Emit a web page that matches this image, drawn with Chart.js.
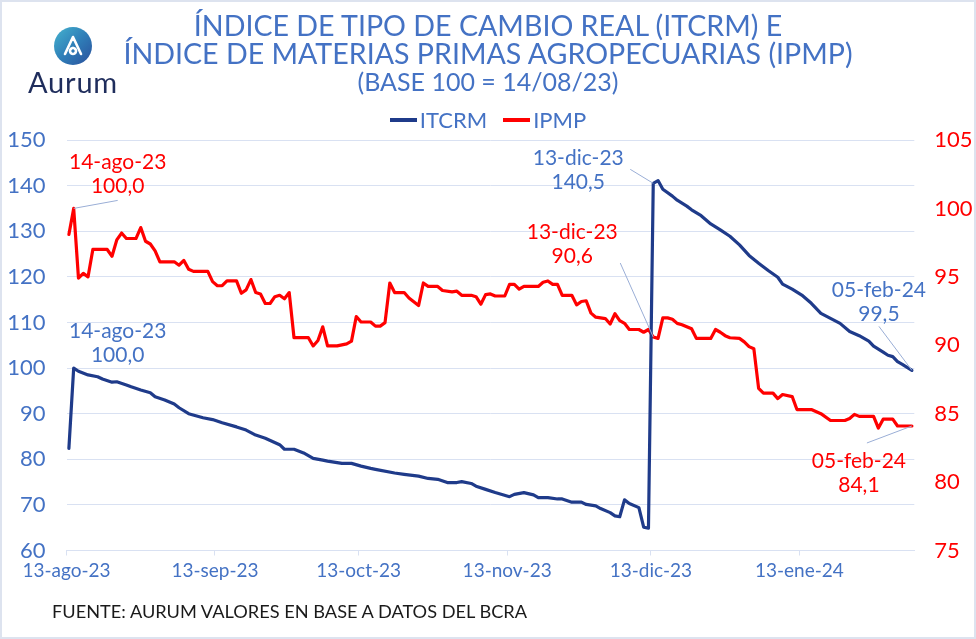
<!DOCTYPE html>
<html>
<head>
<meta charset="utf-8">
<script src="https://cdn.jsdelivr.net/npm/chart.js@4/dist/chart.umd.min.js"></script>
<style>
  html, body { margin: 0; padding: 0; background: #fff; }
  #wrap { position: relative; width: 976px; height: 639px; overflow: hidden; font-family: Lato, "Noto Sans", sans-serif; background: #fff; }
  #c { position: absolute; left: 0; top: 0; }
  #frame { position: absolute; left: 0; top: 0; width: 976px; height: 639px; box-sizing: border-box; border: 2px solid #dde3ef; pointer-events: none; }
  .tl { position: absolute; left: 0; width: 976px; text-align: center; color: #4472C4; white-space: nowrap; }
  #t1 { top: 8px; font-size: 28.6px; line-height: 34px; }
  #t2 { top: 36px; font-size: 28.6px; line-height: 34px; }
  #t3 { top: 65px; font-size: 25px; line-height: 32px; }
  #legend { position: absolute; left: 0; top: 106px; width: 976px; display: flex; justify-content: center; align-items: center; gap: 16px; font-size: 22px; color: #4472C4; }
  #legend .item { display: flex; align-items: center; }
  #legend .sw { display: inline-block; width: 27px; height: 4px; margin-right: 3px; }
  #footer { position: absolute; left: 52px; top: 600px; font-size: 18.2px; color: #1a1a1a; white-space: nowrap; }
  #logo { position: absolute; left: 54px; top: 27px; width: 38px; height: 38px; border-radius: 50%; background: linear-gradient(135deg, #45b3cf 0%, #2f7fb8 50%, #2a4f9c 100%); }
  #brand { position: absolute; left: 28px; top: 64px; font-size: 29px; color: #1f2d5c; letter-spacing: 0.8px; }
</style>
</head>
<body>
<div id="wrap">
  <canvas id="c" width="976" height="639"></canvas>
  <div class="tl" id="t1">ÍNDICE DE TIPO DE CAMBIO REAL (ITCRM) E</div>
  <div class="tl" id="t2">ÍNDICE DE MATERIAS PRIMAS AGROPECUARIAS (IPMP)</div>
  <div class="tl" id="t3">(BASE 100 = 14/08/23)</div>
  <div id="legend"></div>
  <div id="logo"><svg width="38" height="38" viewBox="0 0 38 38"><path d="M11 27 L19 10 L27 27 M19 21 a3 3 0 1 0 0.01 0" fill="none" stroke="#fff" stroke-width="2.6" stroke-linecap="round" stroke-linejoin="round"/></svg></div>
  <div id="brand">Aurum</div>
  <div id="footer">FUENTE: AURUM VALORES EN BASE A DATOS DEL BCRA</div>
  <div id="frame"></div>
</div>
<script>
// ---------------- DATA ----------------
const seriesNames = ['ITCRM', 'IPMP'];

const itcrmDates = [
  '2023-08-13','2023-08-14','2023-08-15','2023-08-17','2023-08-19','2023-08-20','2023-08-22','2023-08-23','2023-08-25','2023-08-26',
  '2023-08-28','2023-08-30','2023-08-31','2023-09-02','2023-09-04','2023-09-05','2023-09-07','2023-09-10','2023-09-12','2023-09-14',
  '2023-09-17','2023-09-19','2023-09-21','2023-09-23','2023-09-26','2023-09-27','2023-09-29','2023-10-01','2023-10-03','2023-10-05',
  '2023-10-06','2023-10-09','2023-10-11','2023-10-13','2023-10-15','2023-10-16','2023-10-20','2023-10-22','2023-10-25','2023-10-27',
  '2023-10-29','2023-10-31','2023-11-02','2023-11-03','2023-11-05','2023-11-06','2023-11-08','2023-11-10','2023-11-13','2023-11-14',
  '2023-11-16','2023-11-18','2023-11-19','2023-11-21','2023-11-23','2023-11-24','2023-11-26','2023-11-28','2023-11-29','2023-12-01',
  '2023-12-02','2023-12-04','2023-12-05','2023-12-06','2023-12-07','2023-12-08','2023-12-10','2023-12-11','2023-12-12','2023-12-13',
  '2023-12-14','2023-12-15','2023-12-17','2023-12-18','2023-12-20','2023-12-21','2023-12-23','2023-12-25','2023-12-27','2023-12-29',
  '2023-12-31','2024-01-02','2024-01-04','2024-01-06','2024-01-08','2024-01-09','2024-01-11','2024-01-13','2024-01-15','2024-01-17',
  '2024-01-19','2024-01-21','2024-01-23','2024-01-25','2024-01-27','2024-01-28','2024-01-30','2024-01-31','2024-02-01','2024-02-02',
  '2024-02-03','2024-02-05'
];
const itcrmValues = [
  82.4,100.0,99.3,98.5,98.1,97.6,96.9,97.0,96.3,95.9,
  95.2,94.6,93.7,93.0,92.1,91.3,90.0,89.1,88.7,88.0,
  87.1,86.4,85.3,84.6,83.2,82.2,82.2,81.4,80.2,79.8,
  79.6,79.1,79.1,78.5,78.0,77.8,77.0,76.7,76.3,75.8,
  75.6,74.9,74.9,75.1,74.7,74.1,73.4,72.7,71.8,72.3,
  72.7,72.2,71.6,71.6,71.3,71.3,70.6,70.6,70.1,69.8,
  69.2,68.3,67.6,67.4,71.1,70.3,69.4,65.1,64.9,140.5,
  141.1,139.2,137.7,136.8,135.5,134.7,133.4,131.6,130.3,128.9,
  127.0,124.7,123.0,121.4,119.9,118.4,117.3,116.0,114.2,112.0,
  110.9,109.8,108.0,107.1,105.9,104.8,103.5,102.8,102.5,101.4,
  100.8,99.5
];

const ipmpDates = [
  '2023-08-13','2023-08-14','2023-08-15','2023-08-16','2023-08-17','2023-08-18','2023-08-21','2023-08-22','2023-08-23','2023-08-24',
  '2023-08-25','2023-08-27','2023-08-28','2023-08-29','2023-08-30','2023-08-31','2023-09-01','2023-09-04','2023-09-05','2023-09-06',
  '2023-09-07','2023-09-08','2023-09-11','2023-09-12','2023-09-13','2023-09-14','2023-09-15','2023-09-17','2023-09-18','2023-09-19',
  '2023-09-20','2023-09-21','2023-09-22','2023-09-23','2023-09-24','2023-09-25','2023-09-26','2023-09-27','2023-09-28','2023-09-29',
  '2023-10-02','2023-10-03','2023-10-04','2023-10-05','2023-10-06','2023-10-08','2023-10-10','2023-10-11','2023-10-12','2023-10-13',
  '2023-10-15','2023-10-16','2023-10-17','2023-10-18','2023-10-19','2023-10-20','2023-10-22','2023-10-23','2023-10-25','2023-10-26',
  '2023-10-27','2023-10-29','2023-10-30','2023-11-01','2023-11-02','2023-11-03','2023-11-05','2023-11-06','2023-11-07','2023-11-08',
  '2023-11-09','2023-11-10','2023-11-12','2023-11-13','2023-11-14','2023-11-15','2023-11-16','2023-11-19','2023-11-20','2023-11-21',
  '2023-11-22','2023-11-23','2023-11-24','2023-11-26','2023-11-27','2023-11-28','2023-11-29','2023-11-30','2023-12-01','2023-12-03',
  '2023-12-04','2023-12-05','2023-12-06','2023-12-07','2023-12-08','2023-12-10','2023-12-11','2023-12-12','2023-12-13','2023-12-14',
  '2023-12-15','2023-12-16','2023-12-17','2023-12-18','2023-12-19','2023-12-20','2023-12-21','2023-12-22','2023-12-25','2023-12-26',
  '2023-12-27','2023-12-28','2023-12-29','2023-12-31','2024-01-01','2024-01-02','2024-01-03','2024-01-04','2024-01-05','2024-01-07',
  '2024-01-08','2024-01-09','2024-01-11','2024-01-12','2024-01-15','2024-01-17','2024-01-19','2024-01-22','2024-01-23','2024-01-24',
  '2024-01-25','2024-01-28','2024-01-29','2024-01-30','2024-02-01','2024-02-02','2024-02-05'
];
const ipmpValues = [
  98.1,100.0,94.9,95.25,95.0,97.0,97.0,96.5,97.7,98.2,
  97.8,97.8,98.6,97.6,97.4,96.9,96.1,96.1,95.85,96.2,
  95.55,95.4,95.4,94.65,94.35,94.35,94.7,94.7,93.8,94.05,
  94.8,93.85,93.75,93.05,93.05,93.55,93.65,93.4,93.85,90.55,
  90.55,89.95,90.35,91.35,89.95,89.95,90.1,90.3,92.1,91.7,
  91.7,91.4,91.4,91.65,94.55,93.85,93.85,93.45,92.9,94.55,
  94.3,94.3,94.0,93.9,93.95,93.65,93.65,93.55,93.0,93.7,
  93.75,93.6,93.6,94.45,94.45,94.1,94.3,94.3,94.6,94.7,
  94.45,94.45,93.65,93.65,92.95,93.2,93.25,92.35,92.05,91.95,
  91.55,92.3,91.8,91.6,91.15,91.15,90.95,91.15,90.6,90.5,
  92.0,92.0,91.9,91.6,91.5,91.35,91.2,90.5,90.5,91.15,
  90.95,90.7,90.55,90.5,90.25,89.9,89.75,86.85,86.5,86.5,
  86.1,86.4,86.25,85.3,85.3,85.0,84.5,84.5,84.65,84.95,
  84.8,84.8,83.95,84.6,84.6,84.1,84.1
];

const tickDates  = ['2023-08-13','2023-09-13','2023-10-13','2023-11-13','2023-12-13','2024-01-13'];
const tickLabels = ['13-ago-23','13-sep-23','13-oct-23','13-nov-23','13-dic-23','13-ene-24'];

const leftTicks  = { min: 60, max: 150, step: 10 };
const rightTicks = { min: 75, max: 105, step: 5 };

const monthAbbr = ['ene','feb','mar','abr','may','jun','jul','ago','sep','oct','nov','dic'];

// labelled points: [series, date]
const labelledPoints = [
  ['IPMP',  '2023-08-14'],
  ['ITCRM', '2023-08-14'],
  ['ITCRM', '2023-12-13'],
  ['IPMP',  '2023-12-13'],
  ['ITCRM', '2024-02-05'],
  ['IPMP',  '2024-02-05']
];

// ---------------- STYLE ----------------
const COL_LIGHT = '#4472C4';
const COL_NAVY  = '#1F3B8A';
const COL_RED   = '#FF0000';
const COL_GRID  = '#D9E1F2';
const COL_LEADER = '#9aaed6';

// label placement offsets (pixels from the data point): text centre of first line, leader start
const labelLayout = [
  { tx: 44,  ty: -46,  lx: 44,  ly: -8 },
  { tx: 44,  ty: -37,  lx: null, ly: null },
  { tx: -75, ty: -25,  lx: -23, ly: -14 },
  { tx: -81, ty: -105, lx: -33, ly: -74 },
  { tx: -33, ty: -80,  lx: -33, ly: -44 },
  { tx: -53, ty: 35,   lx: -45, ly: 17 }
];

// ---------------- HELPERS ----------------
const BASE = Date.UTC(2023, 7, 13);
function dayOf(s) {
  const [y, m, d] = s.split('-').map(Number);
  return Math.round((Date.UTC(y, m - 1, d) - BASE) / 86400000);
}
function fmtDate(s) {
  const [y, m, d] = s.split('-').map(Number);
  return String(d).padStart(2, '0') + '-' + monthAbbr[m - 1] + '-' + String(y).slice(2);
}
function fmtVal(v) { return v.toFixed(1).replace('.', ','); }

const seriesData = {
  ITCRM: { dates: itcrmDates, values: itcrmValues, color: COL_NAVY, axis: 'yL', text: COL_LIGHT },
  IPMP:  { dates: ipmpDates,  values: ipmpValues,  color: COL_RED,  axis: 'yR', text: COL_RED }
};

const datasets = seriesNames.map(name => {
  const s = seriesData[name];
  return {
    label: name,
    data: s.dates.map((d, i) => ({ x: dayOf(d), y: s.values[i] })),
    borderColor: s.color,
    backgroundColor: s.color,
    borderWidth: 3.2,
    pointRadius: 0,
    tension: 0,
    borderJoinStyle: 'round',
    borderCapStyle: 'round',
    yAxisID: s.axis
  };
});

// legend (HTML) built from the datasets
const legendEl = document.getElementById('legend');
datasets.forEach(ds => {
  const it = document.createElement('div');
  it.className = 'item';
  const sw = document.createElement('span');
  sw.className = 'sw';
  sw.style.background = ds.borderColor;
  it.appendChild(sw);
  it.appendChild(document.createTextNode(ds.label));
  legendEl.appendChild(it);
});

const allDates = itcrmDates.concat(ipmpDates).map(dayOf);
const xMin = Math.min(...allDates) - 0.5;
const xMax = Math.max(...allDates) + 0.5;

const pointLabels = {
  id: 'pointLabels',
  afterDatasetsDraw(chart) {
    const ctx = chart.ctx;
    const xs = chart.scales.x;
    ctx.save();
    labelledPoints.forEach(([name, date], i) => {
      const s = seriesData[name];
      const idx = s.dates.indexOf(date);
      const v = s.values[idx];
      const px = xs.getPixelForValue(dayOf(date));
      const py = chart.scales[s.axis].getPixelForValue(v);
      const L = labelLayout[i];
      if (L.lx !== null) {
        ctx.strokeStyle = COL_LEADER;
        ctx.lineWidth = 1;
        ctx.beginPath();
        ctx.moveTo(px + L.lx, py + L.ly);
        ctx.lineTo(px, py);
        ctx.stroke();
      }
      ctx.fillStyle = s.text;
      ctx.font = '21px Lato, "Noto Sans", sans-serif';
      ctx.textAlign = 'center';
      ctx.textBaseline = 'middle';
      ctx.fillText(fmtDate(date), px + L.tx, py + L.ty);
      ctx.fillText(fmtVal(v), px + L.tx, py + L.ty + 24);
    });
    ctx.restore();
  }
};

Chart.defaults.font.family = 'Lato, "Noto Sans", sans-serif';

new Chart(document.getElementById('c'), {
  type: 'line',
  data: { datasets },
  options: {
    responsive: false,
    animation: false,
    devicePixelRatio: 1,
    layout: { padding: { top: 140, left: 0, right: 0, bottom: 0 } },
    plugins: { legend: { display: false }, title: { display: false }, tooltip: { enabled: false } },
    scales: {
      x: {
        type: 'linear',
        min: xMin,
        max: xMax,
        afterBuildTicks(scale) { scale.ticks = tickDates.map(d => ({ value: dayOf(d) - 0.5 })); },
        afterFit(scale) { scale.height = 88.5; },
        ticks: {
          autoSkip: false, maxRotation: 0, minRotation: 0, padding: 4,
          color: COL_LIGHT, font: { size: 19 },
          callback: (val, i) => tickLabels[i]
        },
        grid: { display: true, drawOnChartArea: false, drawTicks: true, tickLength: 5, color: COL_GRID },
        border: { display: true, color: COL_GRID, width: 1 }
      },
      yL: {
        position: 'left',
        min: leftTicks.min, max: leftTicks.max,
        afterFit(scale) { scale.width = 66.5; },
        ticks: { stepSize: leftTicks.step, color: COL_LIGHT, font: { size: 22 }, padding: 21 },
        grid: { color: COL_GRID, drawTicks: false, lineWidth: 1 },
        border: { display: false }
      },
      yR: {
        position: 'right',
        min: rightTicks.min, max: rightTicks.max,
        afterFit(scale) { scale.width = 61.7; },
        ticks: { stepSize: rightTicks.step, color: COL_RED, font: { size: 22 }, padding: 20 },
        grid: { display: false, drawTicks: false },
        border: { display: false }
      }
    }
  },
  plugins: [pointLabels]
});
</script>
</body>
</html>
